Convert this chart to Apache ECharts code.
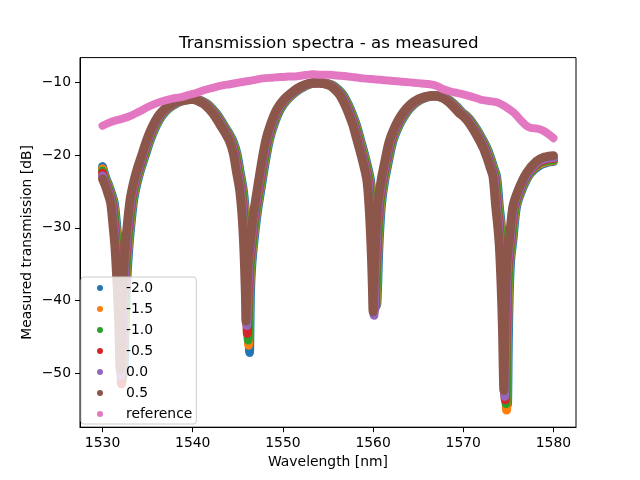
<!DOCTYPE html>
<html>
<head>
<meta charset="utf-8">
<script src="https://cdn.jsdelivr.net/npm/echarts@6/dist/echarts.min.js"></script>
<style>
html, body { margin: 0; padding: 0; background: #ffffff; }
#chart { width: 640px; height: 480px; }
</style>
</head>
<body>
<div id="chart"></div>
<script>
"use strict";

// measured spectra, [wavelength nm, transmission dB], one list per bias
var bias_m20 = [[1530.0,-21.6],[1530.4,-23.3],[1530.7,-24.2],[1531.0,-25.3],[1531.3,-26.6],[1531.55,-29.5],[1531.8,-33.0],[1532.0,-37.5],[1532.2,-43.0],[1532.35,-50.0],[1532.5,-43.5],[1532.7,-37.0],[1532.9,-33.0],[1533.15,-29.5],[1533.45,-26.2],[1533.8,-24.0],[1534.2,-22.1],[1534.7,-20.2],[1535.2,-18.3],[1535.6,-17.0],[1536.0,-15.9],[1536.5,-14.8],[1537.1,-13.9],[1537.7,-13.3],[1538.4,-12.8],[1539.1,-12.5],[1539.8,-12.4],[1540.4,-12.4],[1541.0,-12.6],[1541.6,-13.0],[1542.2,-13.7],[1542.8,-14.6],[1543.4,-15.8],[1544.0,-17.0],[1544.5,-18.2],[1544.9,-19.8],[1545.25,-22.3],[1545.6,-24.8],[1545.85,-28.0],[1546.03,-31.7],[1546.15,-35.5],[1546.25,-39.5],[1546.3,-47.1],[1546.4,-39.0],[1546.55,-35.0],[1546.8,-31.7],[1547.15,-28.0],[1547.55,-24.8],[1548.0,-21.3],[1548.5,-18.0],[1549.0,-15.9],[1549.7,-13.8],[1550.5,-12.4],[1551.5,-11.3],[1552.4,-10.6],[1553.3,-10.2],[1554.1,-10.1],[1554.9,-10.2],[1555.6,-10.5],[1556.2,-11.1],[1556.7,-11.8],[1557.3,-13.2],[1557.8,-14.7],[1558.15,-15.9],[1558.6,-17.9],[1559.15,-20.4],[1559.7,-23.4],[1559.95,-27.0],[1560.1,-30.5],[1560.22,-34.0],[1560.32,-38.0],[1560.4,-40.6],[1560.5,-38.0],[1560.6,-34.0],[1560.75,-30.0],[1560.95,-26.5],[1561.3,-23.4],[1561.6,-21.5],[1562.2,-18.1],[1562.9,-15.9],[1563.5,-14.6],[1564.1,-13.6],[1564.9,-12.7],[1565.9,-12.1],[1567.0,-11.9],[1567.9,-12.1],[1568.6,-12.6],[1569.3,-13.4],[1569.9,-14.2],[1570.4,-14.7],[1570.9,-15.4],[1571.5,-16.5],[1572.1,-17.8],[1572.6,-19.0],[1573.0,-20.3],[1573.4,-21.8],[1573.7,-23.0],[1574.0,-27.1],[1574.2,-29.5],[1574.4,-32.5],[1574.6,-38.0],[1574.75,-44.0],[1574.9,-54.2],[1575.0,-45.0],[1575.1,-39.0],[1575.25,-34.5],[1575.5,-31.7],[1575.9,-27.1],[1576.5,-24.8],[1577.4,-22.6],[1578.5,-21.4],[1579.4,-21.0],[1580.0,-20.9]];

var bias_m15 = [[1530.0,-21.9],[1530.3,-23.3],[1530.6,-24.2],[1530.9,-25.3],[1531.2,-26.6],[1531.45,-29.5],[1531.7,-33.0],[1531.9,-37.5],[1532.1,-43.0],[1532.25,-50.4],[1532.4,-43.5],[1532.6,-37.0],[1532.8,-33.0],[1533.05,-29.5],[1533.35,-26.2],[1533.7,-24.0],[1534.1,-22.1],[1534.6,-20.2],[1535.1,-18.3],[1535.5,-17.0],[1535.9,-15.9],[1536.4,-14.8],[1537.0,-13.9],[1537.6,-13.3],[1538.3,-12.8],[1539.0,-12.5],[1539.7,-12.4],[1540.3,-12.4],[1540.9,-12.6],[1541.5,-13.0],[1542.1,-13.7],[1542.7,-14.6],[1543.3,-15.8],[1543.9,-17.0],[1544.4,-18.2],[1544.8,-19.8],[1545.15,-22.3],[1545.5,-24.8],[1545.75,-28.0],[1545.93,-31.7],[1546.05,-35.5],[1546.15,-39.5],[1546.2,-46.1],[1546.3,-39.0],[1546.45,-35.0],[1546.7,-31.7],[1547.05,-28.0],[1547.45,-24.8],[1547.9,-21.3],[1548.4,-18.0],[1548.9,-15.9],[1549.6,-13.8],[1550.4,-12.4],[1551.4,-11.3],[1552.3,-10.6],[1553.2,-10.2],[1554.0,-10.1],[1554.8,-10.2],[1555.5,-10.5],[1556.1,-11.1],[1556.6,-11.8],[1557.2,-13.2],[1557.7,-14.7],[1558.05,-15.9],[1558.5,-17.9],[1559.05,-20.4],[1559.6,-23.4],[1559.85,-27.0],[1560.0,-30.5],[1560.12,-34.0],[1560.22,-38.0],[1560.3,-40.8],[1560.4,-38.0],[1560.5,-34.0],[1560.65,-30.0],[1560.85,-26.5],[1561.2,-23.4],[1561.5,-21.5],[1562.1,-18.1],[1562.8,-15.9],[1563.4,-14.6],[1564.0,-13.6],[1564.8,-12.7],[1565.8,-12.1],[1566.9,-11.9],[1567.8,-12.1],[1568.5,-12.6],[1569.2,-13.4],[1569.8,-14.2],[1570.3,-14.7],[1570.8,-15.4],[1571.4,-16.5],[1572.0,-17.8],[1572.5,-19.0],[1572.9,-20.3],[1573.3,-21.8],[1573.6,-23.0],[1573.9,-27.1],[1574.1,-29.5],[1574.3,-32.5],[1574.5,-38.0],[1574.65,-44.0],[1574.8,-55.0],[1574.9,-45.0],[1575.0,-39.0],[1575.15,-34.5],[1575.4,-31.7],[1575.8,-27.1],[1576.4,-24.8],[1577.3,-22.6],[1578.4,-21.3],[1579.3,-20.9],[1580.0,-20.8]];

var bias_m10 = [[1530.0,-22.2],[1530.25,-23.3],[1530.55,-24.2],[1530.85,-25.3],[1531.15,-26.6],[1531.4,-29.5],[1531.65,-33.0],[1531.85,-37.5],[1532.05,-43.0],[1532.2,-50.8],[1532.35,-43.5],[1532.55,-37.0],[1532.75,-33.0],[1533.0,-29.5],[1533.3,-26.2],[1533.65,-24.0],[1534.05,-22.1],[1534.55,-20.2],[1535.05,-18.3],[1535.45,-17.0],[1535.85,-15.9],[1536.35,-14.8],[1536.95,-13.9],[1537.55,-13.3],[1538.25,-12.8],[1538.95,-12.5],[1539.65,-12.4],[1540.25,-12.4],[1540.85,-12.6],[1541.45,-13.0],[1542.05,-13.7],[1542.65,-14.6],[1543.25,-15.8],[1543.85,-17.0],[1544.35,-18.2],[1544.75,-19.8],[1545.1,-22.3],[1545.45,-24.8],[1545.7,-28.0],[1545.88,-31.7],[1546.0,-35.5],[1546.1,-39.5],[1546.15,-45.4],[1546.25,-39.0],[1546.4,-35.0],[1546.65,-31.7],[1547.0,-28.0],[1547.4,-24.8],[1547.85,-21.3],[1548.35,-18.0],[1548.85,-15.9],[1549.55,-13.8],[1550.35,-12.4],[1551.35,-11.3],[1552.25,-10.6],[1553.15,-10.2],[1553.95,-10.1],[1554.75,-10.2],[1555.45,-10.5],[1556.05,-11.1],[1556.55,-11.8],[1557.15,-13.2],[1557.65,-14.7],[1558.0,-15.9],[1558.45,-17.9],[1559.0,-20.4],[1559.55,-23.4],[1559.8,-27.0],[1559.95,-30.5],[1560.07,-34.0],[1560.17,-38.0],[1560.25,-41.0],[1560.35,-38.0],[1560.45,-34.0],[1560.6,-30.0],[1560.8,-26.5],[1561.15,-23.4],[1561.45,-21.5],[1562.05,-18.1],[1562.75,-15.9],[1563.35,-14.6],[1563.95,-13.6],[1564.75,-12.7],[1565.75,-12.1],[1566.85,-11.9],[1567.75,-12.1],[1568.45,-12.6],[1569.15,-13.4],[1569.75,-14.2],[1570.25,-14.7],[1570.75,-15.4],[1571.35,-16.5],[1571.95,-17.8],[1572.45,-19.0],[1572.85,-20.3],[1573.25,-21.8],[1573.55,-23.0],[1573.85,-27.1],[1574.05,-29.5],[1574.25,-32.5],[1574.45,-38.0],[1574.6,-44.0],[1574.75,-54.1],[1574.85,-45.0],[1574.95,-39.0],[1575.1,-34.5],[1575.35,-31.7],[1575.75,-27.1],[1576.35,-24.8],[1577.25,-22.6],[1578.35,-21.2],[1579.25,-20.8],[1580.0,-20.7]];

var bias_m05 = [[1530.0,-22.5],[1530.15,-23.3],[1530.45,-24.2],[1530.75,-25.3],[1531.05,-26.6],[1531.3,-29.5],[1531.55,-33.0],[1531.75,-37.5],[1531.95,-43.0],[1532.1,-51.4],[1532.25,-43.5],[1532.45,-37.0],[1532.65,-33.0],[1532.9,-29.5],[1533.2,-26.2],[1533.55,-24.0],[1533.95,-22.1],[1534.45,-20.2],[1534.95,-18.3],[1535.35,-17.0],[1535.75,-15.9],[1536.25,-14.8],[1536.85,-13.9],[1537.45,-13.3],[1538.15,-12.8],[1538.85,-12.5],[1539.55,-12.4],[1540.15,-12.4],[1540.75,-12.6],[1541.35,-13.0],[1541.95,-13.7],[1542.55,-14.6],[1543.15,-15.8],[1543.75,-17.0],[1544.25,-18.2],[1544.65,-19.8],[1545.0,-22.3],[1545.35,-24.8],[1545.6,-28.0],[1545.78,-31.7],[1545.9,-35.5],[1546.0,-39.5],[1546.05,-44.5],[1546.15,-39.0],[1546.3,-35.0],[1546.55,-31.7],[1546.9,-28.0],[1547.3,-24.8],[1547.75,-21.3],[1548.25,-18.0],[1548.75,-15.9],[1549.45,-13.8],[1550.25,-12.4],[1551.25,-11.3],[1552.15,-10.6],[1553.05,-10.2],[1553.85,-10.1],[1554.65,-10.2],[1555.35,-10.5],[1555.95,-11.1],[1556.45,-11.8],[1557.05,-13.2],[1557.55,-14.7],[1557.9,-15.9],[1558.35,-17.9],[1558.9,-20.4],[1559.45,-23.4],[1559.7,-27.0],[1559.85,-30.5],[1559.97,-34.0],[1560.07,-38.0],[1560.15,-41.2],[1560.25,-38.0],[1560.35,-34.0],[1560.5,-30.0],[1560.7,-26.5],[1561.05,-23.4],[1561.35,-21.5],[1561.95,-18.1],[1562.65,-15.9],[1563.25,-14.6],[1563.85,-13.6],[1564.65,-12.7],[1565.65,-12.1],[1566.75,-11.9],[1567.65,-12.1],[1568.35,-12.6],[1569.05,-13.4],[1569.65,-14.2],[1570.15,-14.7],[1570.65,-15.4],[1571.25,-16.5],[1571.85,-17.8],[1572.35,-19.0],[1572.75,-20.3],[1573.15,-21.8],[1573.45,-23.0],[1573.75,-27.1],[1573.95,-29.5],[1574.15,-32.5],[1574.35,-38.0],[1574.5,-44.0],[1574.65,-53.6],[1574.75,-45.0],[1574.85,-39.0],[1575.0,-34.5],[1575.25,-31.7],[1575.65,-27.1],[1576.25,-24.8],[1577.15,-22.6],[1578.25,-21.1],[1579.15,-20.6],[1580.0,-20.5]];

var bias_00 = [[1530.0,-22.9],[1530.1,-23.3],[1530.4,-24.2],[1530.7,-25.3],[1531.0,-26.6],[1531.25,-29.5],[1531.5,-33.0],[1531.7,-37.5],[1531.9,-43.0],[1532.05,-50.3],[1532.2,-43.5],[1532.4,-37.0],[1532.6,-33.0],[1532.85,-29.5],[1533.15,-26.2],[1533.5,-24.0],[1533.9,-22.1],[1534.4,-20.2],[1534.9,-18.3],[1535.3,-17.0],[1535.7,-15.9],[1536.2,-14.8],[1536.8,-13.9],[1537.4,-13.3],[1538.1,-12.8],[1538.8,-12.5],[1539.5,-12.4],[1540.1,-12.4],[1540.7,-12.6],[1541.3,-13.0],[1541.9,-13.7],[1542.5,-14.6],[1543.1,-15.8],[1543.7,-17.0],[1544.2,-18.2],[1544.6,-19.8],[1544.95,-22.3],[1545.3,-24.8],[1545.55,-28.0],[1545.73,-31.7],[1545.85,-35.5],[1545.95,-39.5],[1546.0,-43.4],[1546.1,-39.0],[1546.25,-35.0],[1546.5,-31.7],[1546.85,-28.0],[1547.25,-24.8],[1547.7,-21.3],[1548.2,-18.0],[1548.7,-15.9],[1549.4,-13.8],[1550.2,-12.4],[1551.2,-11.3],[1552.1,-10.6],[1553.0,-10.2],[1553.8,-10.1],[1554.6,-10.2],[1555.3,-10.5],[1555.9,-11.1],[1556.4,-11.8],[1557.0,-13.2],[1557.5,-14.7],[1557.85,-15.9],[1558.3,-17.9],[1558.85,-20.4],[1559.4,-23.4],[1559.65,-27.0],[1559.8,-30.5],[1559.92,-34.0],[1560.02,-38.0],[1560.1,-42.0],[1560.2,-38.0],[1560.3,-34.0],[1560.45,-30.0],[1560.65,-26.5],[1561.0,-23.4],[1561.3,-21.5],[1561.9,-18.1],[1562.6,-15.9],[1563.2,-14.6],[1563.8,-13.6],[1564.6,-12.7],[1565.6,-12.1],[1566.7,-11.9],[1567.6,-12.1],[1568.3,-12.6],[1569.0,-13.4],[1569.6,-14.2],[1570.1,-14.7],[1570.6,-15.4],[1571.2,-16.5],[1571.8,-17.8],[1572.3,-19.0],[1572.7,-20.3],[1573.1,-21.8],[1573.4,-23.0],[1573.7,-27.1],[1573.9,-29.5],[1574.1,-32.5],[1574.3,-38.0],[1574.45,-44.0],[1574.6,-53.1],[1574.7,-45.0],[1574.8,-39.0],[1574.95,-34.5],[1575.2,-31.7],[1575.6,-27.1],[1576.2,-24.8],[1577.1,-22.6],[1578.2,-21.0],[1579.1,-20.5],[1580.0,-20.4]];

var bias_p05 = [[1530.0,-23.3],[1530.3,-24.2],[1530.6,-25.3],[1530.9,-26.6],[1531.15,-29.5],[1531.4,-33.0],[1531.6,-37.5],[1531.8,-43.0],[1531.95,-49.5],[1532.1,-43.5],[1532.3,-37.0],[1532.5,-33.0],[1532.75,-29.5],[1533.05,-26.2],[1533.4,-24.0],[1533.8,-22.1],[1534.3,-20.2],[1534.8,-18.3],[1535.2,-17.0],[1535.6,-15.9],[1536.1,-14.8],[1536.7,-13.9],[1537.3,-13.3],[1538.0,-12.8],[1538.7,-12.5],[1539.4,-12.4],[1540.0,-12.4],[1540.6,-12.6],[1541.2,-13.0],[1541.8,-13.7],[1542.4,-14.6],[1543.0,-15.8],[1543.6,-17.0],[1544.1,-18.2],[1544.5,-19.8],[1544.85,-22.3],[1545.2,-24.8],[1545.45,-28.0],[1545.63,-31.7],[1545.75,-35.5],[1545.85,-39.5],[1545.9,-42.8],[1546.0,-39.0],[1546.15,-35.0],[1546.4,-31.7],[1546.75,-28.0],[1547.15,-24.8],[1547.6,-21.3],[1548.1,-18.0],[1548.6,-15.9],[1549.3,-13.8],[1550.1,-12.4],[1551.1,-11.3],[1552.0,-10.6],[1552.9,-10.2],[1553.7,-10.1],[1554.5,-10.2],[1555.2,-10.5],[1555.8,-11.1],[1556.3,-11.8],[1556.9,-13.2],[1557.4,-14.7],[1557.75,-15.9],[1558.2,-17.9],[1558.75,-20.4],[1559.3,-23.4],[1559.55,-27.0],[1559.7,-30.5],[1559.82,-34.0],[1559.92,-38.0],[1560.0,-41.5],[1560.1,-38.0],[1560.2,-34.0],[1560.35,-30.0],[1560.55,-26.5],[1560.9,-23.4],[1561.2,-21.5],[1561.8,-18.1],[1562.5,-15.9],[1563.1,-14.6],[1563.7,-13.6],[1564.5,-12.7],[1565.5,-12.1],[1566.6,-11.9],[1567.5,-12.1],[1568.2,-12.6],[1568.9,-13.4],[1569.5,-14.2],[1570.0,-14.7],[1570.5,-15.4],[1571.1,-16.5],[1571.7,-17.8],[1572.2,-19.0],[1572.6,-20.3],[1573.0,-21.8],[1573.3,-23.0],[1573.6,-27.1],[1573.8,-29.5],[1574.0,-32.5],[1574.2,-38.0],[1574.35,-44.0],[1574.5,-52.3],[1574.6,-45.0],[1574.7,-39.0],[1574.85,-34.5],[1575.1,-31.7],[1575.5,-27.1],[1576.1,-24.8],[1577.0,-22.5],[1578.1,-20.9],[1579.0,-20.3],[1580.0,-20.1]];

var reference = [[1530.0,-16.0],[1530.5,-15.7],[1531.1,-15.4],[1532.0,-15.1],[1533.0,-14.7],[1534.0,-14.1],[1534.9,-13.5],[1535.8,-13.0],[1536.7,-12.6],[1537.6,-12.3],[1538.6,-12.1],[1539.5,-11.8],[1540.4,-11.5],[1541.3,-11.1],[1542.2,-10.8],[1543.2,-10.5],[1544.1,-10.3],[1545.0,-10.1],[1546.0,-9.9],[1546.9,-9.7],[1547.8,-9.5],[1548.8,-9.4],[1549.7,-9.3],[1550.6,-9.25],[1551.6,-9.2],[1552.5,-9.05],[1553.3,-8.95],[1554.2,-9.0],[1555.2,-9.0],[1556.0,-9.1],[1557.0,-9.2],[1557.9,-9.35],[1558.9,-9.5],[1559.8,-9.6],[1560.8,-9.7],[1561.7,-9.8],[1562.7,-9.9],[1563.6,-10.0],[1564.5,-10.1],[1565.4,-10.2],[1566.3,-10.3],[1567.0,-10.5],[1567.8,-11.0],[1568.6,-11.3],[1569.3,-11.5],[1570.0,-11.7],[1570.9,-12.0],[1571.9,-12.4],[1572.8,-12.6],[1573.8,-12.8],[1574.7,-13.4],[1575.6,-14.2],[1576.5,-15.4],[1577.0,-16.0],[1577.5,-16.3],[1578.2,-16.4],[1578.9,-16.7],[1579.5,-17.2],[1580.0,-17.7]];

var seriesNames = ['-2.0', '-1.5', '-1.0', '-0.5', '0.0', '0.5', 'reference'];
var seriesData = [bias_m20, bias_m15, bias_m10, bias_m05, bias_00, bias_p05, reference];
var seriesColors = ['#1f77b4', '#ff7f0e', '#2ca02c', '#d62728', '#9467bd', '#8c564b', '#e377c2'];
var xTicks = [1530, 1540, 1550, 1560, 1570, 1580];
var yTicks = [-50, -40, -30, -20, -10];

var FONT = 'DejaVu Sans';

var chart = echarts.init(document.getElementById('chart'), null, { renderer: 'canvas' });

var series = [];
for (var i = 0; i < seriesData.length; i++) {
	series.push({
		name: seriesNames[i],
		type: 'line',
		data: seriesData[i],
		showSymbol: false,
		smooth: 0.3,
		color: seriesColors[i],
		itemStyle: { color: seriesColors[i], borderWidth: 0 },
		lineStyle: {
			color: seriesColors[i],
			width: i === 6 ? 8 : 9,
			cap: 'round',
			join: 'round'
		},
		emphasis: { disabled: true }
	});
}

chart.setOption({
	animation: false,
	backgroundColor: '#ffffff',
	title: {
		text: 'Transmission spectra - as measured',
		left: 179,
		top: 35,
		padding: 0,
		textStyle: { fontFamily: FONT, fontSize: 16.7, fontWeight: 'normal', color: '#000000' }
	},
	grid: {
		left: 80,
		right: 64,
		top: 57.6,
		bottom: 52.8,
		show: true,
		borderColor: '#000000',
		borderWidth: 1,
		backgroundColor: 'transparent'
	},
	legend: {
		orient: 'vertical',
		left: 81,
		top: 277,
		icon: 'circle',
		itemWidth: 6,
		itemHeight: 6,
		itemGap: 7,
		padding: [4, 4, 3, 16],
		backgroundColor: 'rgba(255,255,255,0.8)',
		borderColor: '#cccccc',
		borderWidth: 1,
		borderRadius: 3,
		textStyle: { fontFamily: FONT, fontSize: 13.9, color: '#000000', padding: [0, 0, 0, 18] },
		data: seriesNames,
		selectedMode: false
	},
	xAxis: {
		type: 'value',
		min: 1527.5,
		max: 1582.5,
		name: 'Wavelength [nm]',
		nameLocation: 'middle',
		nameGap: 28,
		nameMoveOverlap: false,
		nameTextStyle: { fontFamily: FONT, fontSize: 13.9, color: '#000000' },
		axisLine: { show: true, lineStyle: { color: '#000000', width: 1 } },
		axisTick: { show: true, inside: false, length: 5, lineStyle: { color: '#000000' }, customValues: xTicks },
		axisLabel: {
			fontFamily: FONT, fontSize: 13.9, color: '#000000', margin: 9, customValues: xTicks,
			formatter: function(v) { return String(v); }
		},
		splitLine: { show: false }
	},
	yAxis: {
		type: 'value',
		min: -57.35,
		max: -6.65,
		name: 'Measured transmission [dB]',
		nameLocation: 'middle',
		nameGap: 46,
		nameMoveOverlap: false,
		nameTextStyle: { fontFamily: FONT, fontSize: 13.9, color: '#000000' },
		axisLine: { show: true, lineStyle: { color: '#000000', width: 1 } },
		axisTick: { show: true, inside: false, length: 5, lineStyle: { color: '#000000' }, customValues: yTicks },
		axisLabel: {
			fontFamily: FONT, fontSize: 13.9, color: '#000000', margin: 9, customValues: yTicks,
			formatter: function(v) { return String(v).replace('-', '\u2212'); }
		},
		splitLine: { show: false }
	},
	series: series
});
</script>
</body>
</html>
